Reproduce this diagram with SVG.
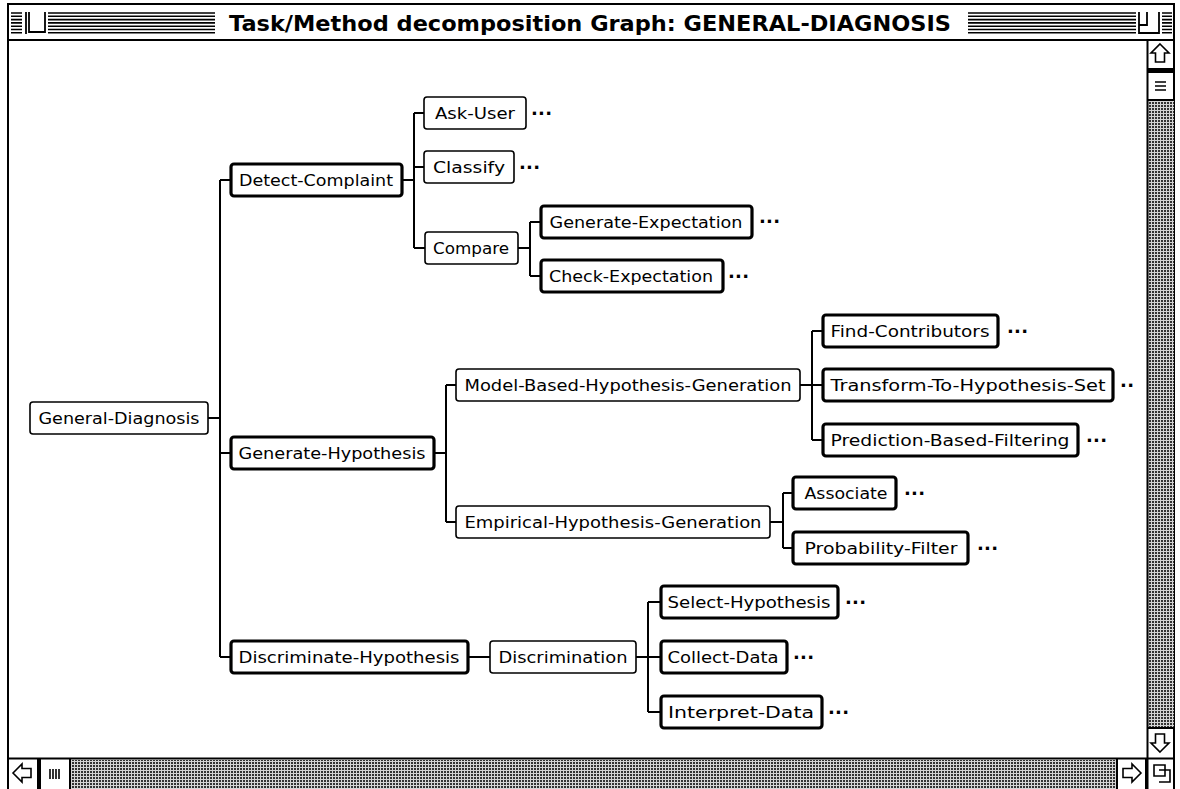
<svg xmlns="http://www.w3.org/2000/svg" width="1180" height="789" viewBox="0 0 1180 789">
<defs>
<pattern id="gray" width="3" height="3" patternUnits="userSpaceOnUse"><rect width="3" height="3" fill="#d4d4d4"/><rect width="2" height="2" fill="#333"/></pattern>
<style>
.thin{fill:#fff;stroke:#000;stroke-width:1.6}
.thick{fill:#fff;stroke:#000;stroke-width:3.2}
.lbl{font-family:"DejaVu Sans","Liberation Sans",sans-serif;font-size:16px;fill:#000;text-anchor:middle}
.dots{font-family:"DejaVu Sans","Liberation Sans",sans-serif;font-size:18px;font-weight:bold;fill:#000}
.conn{fill:none;stroke:#000;stroke-width:2}
.frame{fill:none;stroke:#000;stroke-width:2}
.stripe{stroke:#000;stroke-width:1.6}
.title{font-family:"DejaVu Sans","Liberation Sans",sans-serif;font-size:21px;font-weight:bold;fill:#000;text-anchor:middle}
</style>
</defs>
<rect width="1180" height="789" fill="#fff"/>

<g id="window">
<rect x="8" y="4" width="1166" height="800" class="frame"/>
<g id="title-stripes">
<path class="stripe" d="M11 13H215M11 16.3H215M11 19.6H215M11 22.9H215M11 26.2H215M11 29.5H215M11 32.8H215"/>
<path class="stripe" d="M968 13H1136M968 16.3H1136M968 19.6H1136M968 22.9H1136M968 26.2H1136M968 29.5H1136M968 32.8H1136"/>
<path class="stripe" d="M1162 13H1172M1162 16.3H1172M1162 19.6H1172M1162 22.9H1172M1162 26.2H1172M1162 29.5H1172M1162 32.8H1172"/>
</g>
<rect x="22" y="11" width="26" height="24" fill="#fff"/>
<path d="M26 12V34M29 12V32H45V12" fill="none" stroke="#000" stroke-width="1.8"/>
<rect x="1137" y="11" width="24" height="24" fill="#fff"/>
<path d="M1139 12V33H1159V12M1147 12V25H1139" fill="none" stroke="#000" stroke-width="1.8"/>
<text class="title" x="590" y="31" textLength="722" lengthAdjust="spacingAndGlyphs">Task/Method decomposition Graph: GENERAL-DIAGNOSIS</text>
<path class="frame" d="M8 40H1174"/>
</g>

<g id="vscroll">
<rect x="1148" y="100" width="26" height="628" fill="url(#gray)"/>
<path class="frame" d="M1147.5 40V789"/>
<path d="M1160 44L1169 53H1164.5V62H1155.5V53H1151Z" fill="#fff" stroke="#000" stroke-width="1.6"/>
<rect x="1148" y="68" width="26" height="5" fill="#000"/>
<path class="frame" d="M1148 100H1174"/>
<path d="M1155 82H1166M1155 86H1166M1155 90H1166" stroke="#000" stroke-width="1.6"/>
<path class="frame" d="M1148 728H1174"/>
<path d="M1160 752L1169 743H1164.5V734H1155.5V743H1151Z" fill="#fff" stroke="#000" stroke-width="1.6"/>
</g>

<g id="hscroll">
<rect x="70" y="760" width="1047" height="29" fill="url(#gray)"/>
<path class="frame" d="M8 758.5H1174"/>
<path d="M13 773L22 764V768.5H31V777.5H22V782Z" fill="#fff" stroke="#000" stroke-width="1.6"/>
<rect x="37" y="759" width="4" height="30" fill="#000"/>
<path class="frame" d="M70 759V789M1117 759V789"/>
<path d="M50 769V779M53 769V779M56 769V779M59 769V779" stroke="#000" stroke-width="1.6"/>
<path d="M1141 773L1132 764V768.5H1123V777.5H1132V782Z" fill="#fff" stroke="#000" stroke-width="1.6"/>
<rect x="1145" y="759" width="3" height="30" fill="#000"/>
<path d="M1154 765H1165V776H1154ZM1159 770H1170V782H1159" fill="none" stroke="#000" stroke-width="1.6"/>
</g>

<g id="connectors">
<path class="conn" d="M208 418H220M220 180V657M220 180H230M220 453H230M220 657H230"/>
<path class="conn" d="M402 180H414M414 113V248M414 113H424M414 167H424M414 248H425"/>
<path class="conn" d="M518 248H530M530 222V276M530 222H541M530 276H541"/>
<path class="conn" d="M434 453H446M446 385V522M446 385H456M446 522H456"/>
<path class="conn" d="M800 385H812M812 331V440M812 331H823M812 385H823M812 440H823"/>
<path class="conn" d="M770 522H783M783 493V548M783 493H793M783 548H793"/>
<path class="conn" d="M468 657H490"/>
<path class="conn" d="M636 657H648M648 602V712M648 602H661M648 657H661M648 712H661"/>
</g>

<g id="general-diagnosis"><rect class="thin" x="30" y="402" width="178" height="32" rx="3"/><text class="lbl" x="119" y="424" textLength="161" lengthAdjust="spacingAndGlyphs">General-Diagnosis</text></g>
<g id="detect-complaint"><rect class="thick" x="231" y="164" width="171" height="32" rx="3"/><text class="lbl" x="316" y="186" textLength="154" lengthAdjust="spacingAndGlyphs">Detect-Complaint</text></g>
<g id="generate-hypothesis"><rect class="thick" x="231" y="437" width="203" height="32" rx="3"/><text class="lbl" x="332" y="459" textLength="187" lengthAdjust="spacingAndGlyphs">Generate-Hypothesis</text></g>
<g id="discriminate-hypothesis"><rect class="thick" x="231" y="641" width="237" height="32" rx="3"/><text class="lbl" x="349" y="663" textLength="221" lengthAdjust="spacingAndGlyphs">Discriminate-Hypothesis</text></g>

<g id="ask-user"><rect class="thin" x="424" y="97" width="102" height="32" rx="3"/><text class="lbl" x="475" y="119" textLength="80" lengthAdjust="spacingAndGlyphs">Ask-User</text><text class="dots" x="531" y="115" textLength="21">...</text></g>
<g id="classify"><rect class="thin" x="424" y="151" width="90" height="32" rx="3"/><text class="lbl" x="469" y="173" textLength="72" lengthAdjust="spacingAndGlyphs">Classify</text><text class="dots" x="519" y="169" textLength="21">...</text></g>
<g id="compare"><rect class="thin" x="425" y="232" width="93" height="32" rx="3"/><text class="lbl" x="471" y="254" textLength="76" lengthAdjust="spacingAndGlyphs">Compare</text></g>
<g id="generate-expectation"><rect class="thick" x="541" y="206" width="211" height="32" rx="3"/><text class="lbl" x="646" y="228" textLength="193" lengthAdjust="spacingAndGlyphs">Generate-Expectation</text><text class="dots" x="759" y="223" textLength="21">...</text></g>
<g id="check-expectation"><rect class="thick" x="541" y="260" width="182" height="32" rx="3"/><text class="lbl" x="631" y="282" textLength="164" lengthAdjust="spacingAndGlyphs">Check-Expectation</text><text class="dots" x="728" y="278" textLength="21">...</text></g>

<g id="model-based-hypothesis-generation"><rect class="thin" x="456" y="369" width="344" height="32" rx="3"/><text class="lbl" x="628" y="391" textLength="327" lengthAdjust="spacingAndGlyphs">Model-Based-Hypothesis-Generation</text></g>
<g id="empirical-hypothesis-generation"><rect class="thin" x="456" y="506" width="314" height="32" rx="3"/><text class="lbl" x="613" y="528" textLength="297" lengthAdjust="spacingAndGlyphs">Empirical-Hypothesis-Generation</text></g>
<g id="find-contributors"><rect class="thick" x="823" y="315" width="175" height="32" rx="3"/><text class="lbl" x="910" y="337" textLength="159" lengthAdjust="spacingAndGlyphs">Find-Contributors</text><text class="dots" x="1007" y="333" textLength="21">...</text></g>
<g id="transform-to-hypothesis-set"><rect class="thick" x="823" y="369" width="290" height="32" rx="3"/><text class="lbl" x="968" y="391" textLength="275" lengthAdjust="spacingAndGlyphs">Transform-To-Hypothesis-Set</text><text class="dots" x="1120" y="387" textLength="14">..</text></g>
<g id="prediction-based-filtering"><rect class="thick" x="823" y="424" width="255" height="32" rx="3"/><text class="lbl" x="950" y="446" textLength="239" lengthAdjust="spacingAndGlyphs">Prediction-Based-Filtering</text><text class="dots" x="1086" y="442" textLength="21">...</text></g>
<g id="associate"><rect class="thick" x="793" y="477" width="103" height="32" rx="3"/><text class="lbl" x="846" y="499" textLength="83" lengthAdjust="spacingAndGlyphs">Associate</text><text class="dots" x="904" y="495" textLength="21">...</text></g>
<g id="probability-filter"><rect class="thick" x="793" y="532" width="175" height="32" rx="3"/><text class="lbl" x="881" y="554" textLength="153" lengthAdjust="spacingAndGlyphs">Probability-Filter</text><text class="dots" x="977" y="550" textLength="21">...</text></g>

<g id="discrimination"><rect class="thin" x="490" y="641" width="146" height="32" rx="3"/><text class="lbl" x="563" y="663" textLength="129" lengthAdjust="spacingAndGlyphs">Discrimination</text></g>
<g id="select-hypothesis"><rect class="thick" x="661" y="586" width="177" height="32" rx="3"/><text class="lbl" x="749" y="608" textLength="163" lengthAdjust="spacingAndGlyphs">Select-Hypothesis</text><text class="dots" x="845" y="604" textLength="21">...</text></g>
<g id="collect-data"><rect class="thick" x="661" y="641" width="126" height="32" rx="3"/><text class="lbl" x="723" y="663" textLength="111" lengthAdjust="spacingAndGlyphs">Collect-Data</text><text class="dots" x="793" y="659" textLength="21">...</text></g>
<g id="interpret-data"><rect class="thick" x="661" y="696" width="161" height="32" rx="3"/><text class="lbl" x="741" y="718" textLength="146" lengthAdjust="spacingAndGlyphs">Interpret-Data</text><text class="dots" x="828" y="714" textLength="21">...</text></g>
</svg>
